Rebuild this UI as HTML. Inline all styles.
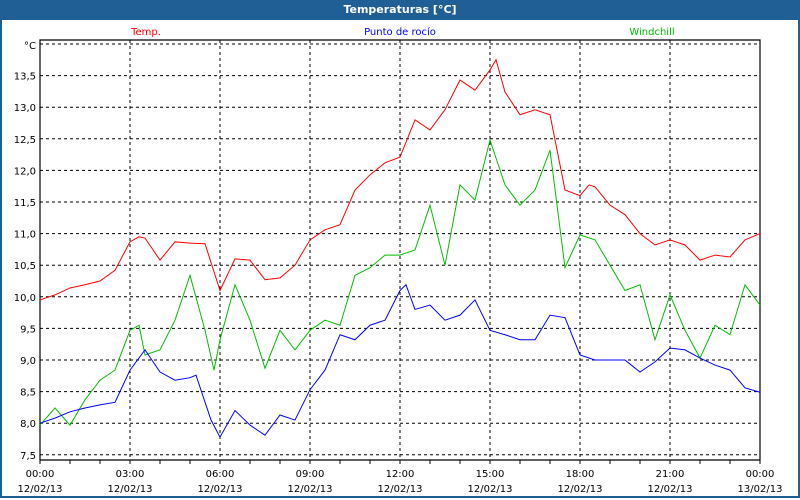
<!DOCTYPE html>
<html><head><meta charset="utf-8"><style>
body{margin:0;width:800px;height:500px;overflow:hidden;background:#fff;font-family:"DejaVu Sans","Liberation Sans",sans-serif}
#frame{position:absolute;left:0;top:0;width:796px;height:496px;border:2px solid #1f5f96;border-top:none}
#title{position:absolute;left:0;top:0;width:800px;height:20px;background:#1f5f96;color:#fff;font-weight:bold;font-size:11px;text-align:center;line-height:20px}
</style></head><body>
<div id="frame"></div>
<div id="title">Temperaturas [°C]</div>
<svg id="chart" width="800" height="500" style="position:absolute;left:0;top:0" font-family="DejaVu Sans, Liberation Sans, sans-serif" font-size="10"></svg>
<script>
const xTickHours=[0,3,6,9,12,15,18,21,24];
const xTickTimes=["00:00","03:00","06:00","09:00","12:00","15:00","18:00","21:00","00:00"];
const xTickDates=["12/02/13","12/02/13","12/02/13","12/02/13","12/02/13","12/02/13","12/02/13","12/02/13","13/02/13"];
const yTicks=[7.5,8,8.5,9,9.5,10,10.5,11,11.5,12,12.5,13,13.5];
const tempHours=[0,0.5,1,1.5,2,2.5,3,3.3,3.5,4,4.5,5,5.5,6,6.5,7,7.5,8,8.5,9,9.5,10,10.5,11,11.5,12,12.5,13,13.5,14,14.5,15,15.2,15.5,16,16.5,17,17.5,18,18.3,18.5,19,19.5,20,20.5,21,21.5,22,22.5,23,23.5,24];
const tempValues=[9.95,10.03,10.14,10.19,10.25,10.42,10.87,10.95,10.93,10.58,10.87,10.85,10.84,10.1,10.6,10.58,10.27,10.3,10.5,10.9,11.06,11.14,11.69,11.93,12.12,12.21,12.8,12.64,12.96,13.43,13.27,13.59,13.75,13.24,12.88,12.96,12.88,11.69,11.6,11.77,11.74,11.45,11.3,11.0,10.82,10.9,10.82,10.58,10.66,10.63,10.9,11.0];
const dewHours=[0,0.5,1,1.5,2,2.5,3,3.5,4,4.5,5,5.2,5.7,6,6.5,7,7.5,8,8.5,9,9.5,10,10.5,11,11.5,12,12.2,12.5,13,13.5,14,14.5,15,15.5,16,16.5,17,17.5,18,18.5,19,19.5,20,20.5,21,21.5,22,22.5,23,23.5,24];
const dewValues=[8.0,8.08,8.18,8.24,8.29,8.33,8.84,9.16,8.81,8.68,8.72,8.76,8.05,7.78,8.2,7.97,7.81,8.13,8.05,8.53,8.84,9.4,9.32,9.55,9.63,10.1,10.19,9.8,9.87,9.63,9.71,9.95,9.47,9.4,9.32,9.32,9.71,9.67,9.08,9.0,9.0,9.0,8.81,8.97,9.19,9.16,9.03,8.92,8.84,8.56,8.49];
const windHours=[0,0.5,1,1.5,2,2.5,3,3.3,3.5,4,4.5,5,5.5,5.8,6,6.5,7,7.5,8,8.5,9,9.5,10,10.5,11,11.5,12,12.5,13,13.5,14,14.5,15,15.5,16,16.5,17,17.5,18,18.5,19,19.5,20,20.5,21,21.5,22,22.5,23,23.5,24];
const windValues=[7.97,8.24,7.97,8.37,8.68,8.84,9.47,9.55,9.08,9.16,9.63,10.34,9.47,8.84,9.32,10.19,9.63,8.87,9.47,9.16,9.47,9.63,9.55,10.34,10.46,10.66,10.66,10.74,11.45,10.5,11.77,11.53,12.48,11.77,11.45,11.69,12.32,10.46,10.98,10.9,10.5,10.1,10.19,9.32,10.03,9.47,9.03,9.55,9.4,10.19,9.87];

const svg=document.getElementById('chart');
const NS='http://www.w3.org/2000/svg';
const L=40,R=760,T=40,B=460;
const xs=h=>L+(R-L)*h/24;
const ys=v=>44+(14-v)*63.2;
function mk(tag,attrs){const e=document.createElementNS(NS,tag);for(const k in attrs)e.setAttribute(k,attrs[k]);svg.appendChild(e);return e;}
[...yTicks,14].forEach(v=>{
  const g=mk('line',{x1:L,x2:R,y1:ys(v),y2:ys(v),stroke:'#000','stroke-dasharray':'3,3','stroke-width':1});
  
  
});
xTickHours.slice(1,-1).forEach(h=>{
  const g=mk('line',{x1:xs(h),x2:xs(h),y1:T,y2:B,stroke:'#000','stroke-dasharray':'3,3','stroke-width':1});
  
  
});
const ax=mk('path',{d:`M${L},${T}H${R}V${B}H${L}Z`,fill:'none',stroke:'#000','stroke-width':1.2});


for(let h=0;h<=24;h++){
  const t=mk('line',{x1:xs(h),x2:xs(h),y1:B,y2:B+4,stroke:'#000'});
  
  
}
yTicks.forEach(v=>{
  const t=mk('text',{x:L-4,y:ys(v)+4,'text-anchor':'end',fill:'#000'});
  t.textContent=v.toFixed(1).replace('.',',');
  
  
});
const u=mk('text',{x:L-4,y:49,'text-anchor':'end',fill:'#000'});u.textContent='°C';


xTickHours.forEach((h,i)=>{
  const t=mk('text',{x:xs(h),y:477,'text-anchor':'middle',fill:'#000'});t.textContent=xTickTimes[i];
  
  
  const d=mk('text',{x:xs(h),y:492,'text-anchor':'middle',fill:'#000'});d.textContent=xTickDates[i];
  
  
});
[['Temp.',146,'#ff0000','legend-temp'],['Punto de rocío',400,'#0000ff','legend-dewpoint'],['Windchill',652,'#00c000','legend-windchill']].forEach(a=>{
  const t=mk('text',{x:a[1],y:35,'text-anchor':'middle',fill:a[2]});t.textContent=a[0];
  
  
});
function series(hs,vs,color,name){
  const p=mk('polyline',{points:hs.map((h,i)=>xs(h)+','+ys(vs[i])).join(' '),fill:'none',stroke:color,'stroke-width':1});
  
  
}
series(windHours,windValues,'#00c000','windchill-line');
series(dewHours,dewValues,'#0000ff','dewpoint-line');
series(tempHours,tempValues,'#ff0000','temp-line');
</script>
</body></html>
